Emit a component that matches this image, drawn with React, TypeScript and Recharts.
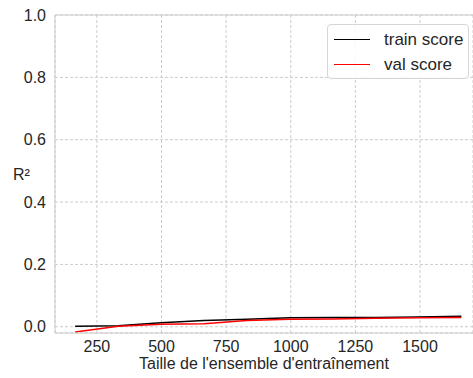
import { LineChart, Line, XAxis, YAxis, CartesianGrid, ReferenceLine } from "recharts";

const trainSizes = [166, 332, 498, 664, 830, 996, 1162, 1328, 1494, 1660];
const trainScore = [0.002, 0.003, 0.013, 0.02, 0.024, 0.029, 0.03, 0.03, 0.031, 0.034];
const valScore = [-0.017, 0.002, 0.008, 0.01, 0.02, 0.024, 0.025, 0.027, 0.029, 0.03];
const xTicks = [250, 500, 750, 1000, 1250, 1500];
const yTicks = [0, 0.2, 0.4, 0.6, 0.8, 1.0];

const data = trainSizes.map((n, i) => ({ n, train: trainScore[i], val: valScore[i] }));

const font = "'Liberation Sans', Arial, sans-serif";
const tickStyle = { fontSize: 16, fill: "#262626", fontFamily: font };

function LegendBox() {
  const items = [
    { label: "train score", color: "#000000" },
    { label: "val score", color: "#ff0000" },
  ];
  return (
    <div
      style={{
        position: "absolute",
        left: 327,
        top: 24,
        width: 142,
        height: 55,
        boxSizing: "border-box",
        border: "1px solid #d6d6d6",
        borderRadius: 4,
        background: "rgba(255,255,255,0.85)",
        padding: "2px 0 0 6px",
        fontFamily: font,
        fontSize: 17,
        color: "#262626",
      }}
    >
      {items.map((it) => (
        <div key={it.label} style={{ display: "flex", alignItems: "center", height: 25 }}>
          <div style={{ width: 36, height: 1.4, background: it.color, marginRight: 14 }} />
          <span>{it.label}</span>
        </div>
      ))}
    </div>
  );
}

export default function App() {
  return (
    <div style={{ position: "absolute", left: 0, top: 0, width: 473, height: 378, background: "#fff" }}>
      <LineChart width={473} height={378} data={data} margin={{ top: 15, right: 0, bottom: 0, left: 0 }}>
        <CartesianGrid stroke="#cccccc" strokeDasharray="3 2" />
        <XAxis
          dataKey="n"
          type="number"
          domain={[88, 1705]}
          ticks={xTicks}
          tickLine={false}
          axisLine={{ stroke: "#cccccc" }}
          tick={tickStyle}
          tickMargin={2}
          height={45}
          allowDataOverflow
          label={{ value: "Taille de l'ensemble d'entraînement", position: "insideBottom", offset: 9, style: tickStyle }}
        />
        <YAxis
          type="number"
          domain={[-0.02, 1.0]}
          ticks={yTicks}
          tickFormatter={(v: number) => v.toFixed(1)}
          tickLine={false}
          axisLine={{ stroke: "#cccccc" }}
          tick={tickStyle}
          tickMargin={3}
          width={55}
          allowDataOverflow
          label={{ value: "R²", position: "insideLeft", offset: 13, style: tickStyle }}
        />
        <ReferenceLine y={1.0} stroke="#cccccc" strokeDasharray="0" />
        <Line dataKey="train" stroke="#000000" strokeWidth={1.5} dot={false} isAnimationActive={false} />
        <Line dataKey="val" stroke="#ff0000" strokeWidth={1.5} dot={false} isAnimationActive={false} />
      </LineChart>
      <LegendBox />
    </div>
  );
}
